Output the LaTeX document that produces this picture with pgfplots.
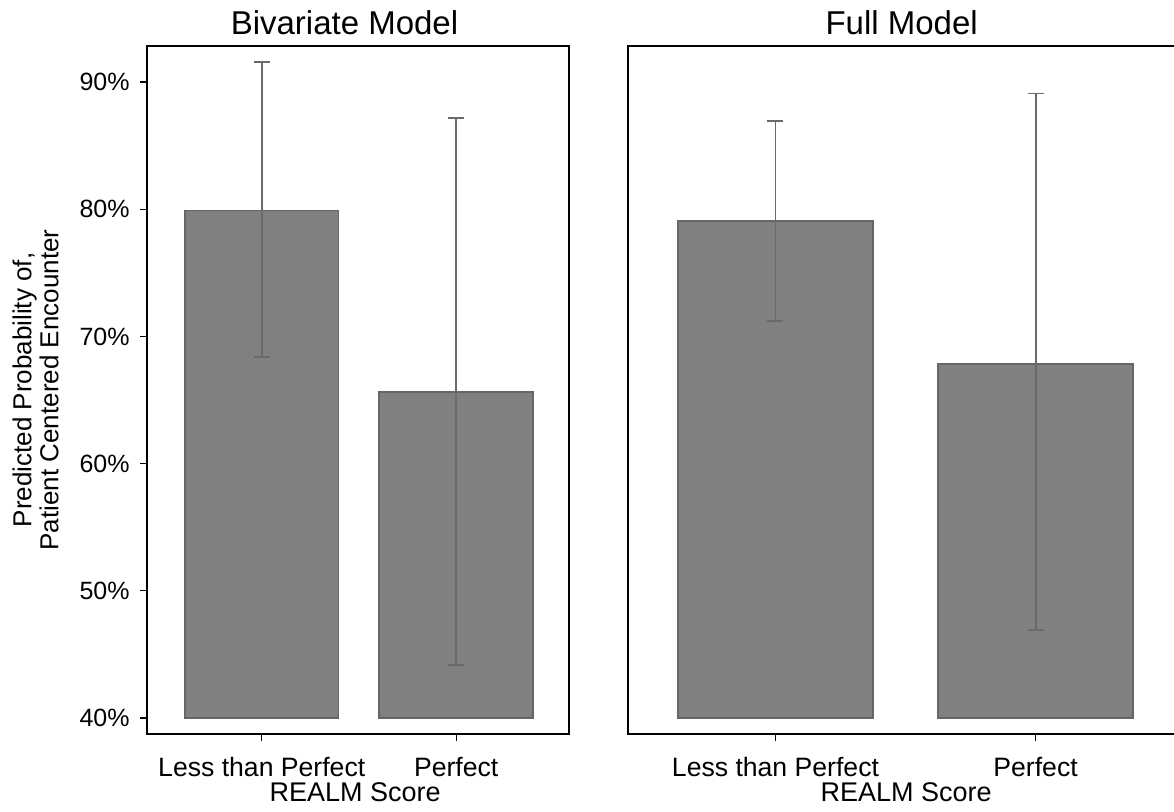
\documentclass[border=0pt]{standalone}
\usepackage{pgfplots}
\pgfplotsset{compat=1.18}
\usepackage{fontspec}
\setmainfont{Liberation Sans}
\definecolor{barfill}{HTML}{808080}
\definecolor{baredge}{HTML}{666666}
\definecolor{errc}{HTML}{6A6A6A}

\pgfplotsset{
  mypanel/.style={
    scale only axis,
    height=344pt,
    ymin=38.74, ymax=92.83,
    ybar stacked,
    axis line style={line width=0.75pt, black},
    tick style={line width=0.6pt, black},
    tick align=outside,
    major tick length=3.5pt,
    xtick={0,1},
    xticklabels={Less than Perfect, Perfect},
    xtick pos=bottom,
    xticklabel style={font=\fontsize{13.3}{14}\selectfont, anchor=base, inner sep=0pt, yshift=-17.5pt},
    xlabel={REALM Score},
    xlabel style={font=\fontsize{13.5}{14}\selectfont, anchor=base, inner sep=0pt},
    title style={font=\fontsize{16.5}{18}\selectfont, anchor=base, inner sep=0pt},
  },
  errstyle/.style={
    fill=barfill, draw=baredge, line width=0.9pt,
    error bars/.cd, y dir=both, y explicit,
    error bar style={errc, line width=0.95pt},
    error mark options={errc, line width=0.95pt, mark size=4pt, rotate=90},
  },
}

\begin{document}
\begin{tikzpicture}
% Left panel: Bivariate Model
\begin{axis}[
  mypanel,
  at={(73.5pt,38.5pt)}, anchor=south west,
  width=211pt,
  xmin=-0.59, xmax=1.58,
  bar width=0.79,
  ytick={40,50,60,70,80,90},
  yticklabels={40\%,50\%,60\%,70\%,80\%,90\%},
  ytick pos=left,
  yticklabel style={font=\fontsize{12.5}{14}\selectfont, anchor=east, inner sep=0pt, xshift=-5pt},
  ylabel={Predicted Probability of,\\Patient Centered Encounter},
  ylabel style={font=\fontsize{13}{13.5}\selectfont, align=center, inner sep=0pt,
    at={([xshift=-44pt]axis description cs:0,0.5)}, anchor=south},
  title={Bivariate Model},
  title style={at={(axis description cs:0.468,1)}, yshift=0pt},
  xlabel style={at={(axis description cs:0.493,0)}, yshift=-33.5pt},
]
\addplot[draw=none, fill=none, forget plot] coordinates {(0,40) (1,40)};
\addplot[errstyle] coordinates {
  (0,39.9) += (0,11.7) -= (0,11.5)
  (1,25.6) += (0,21.6) -= (0,21.4)
};
\end{axis}

% Right panel: Full Model
\begin{axis}[
  mypanel,
  at={(314pt,38.5pt)}, anchor=south west,
  width=277pt,
  xmin=-0.567, xmax=1.563,
  bar width=0.75,
  ytick=\empty,
  title={Full Model},
  title style={at={(axis description cs:0.494,1)}, yshift=0pt},
  xlabel style={at={(axis description cs:0.502,0)}, yshift=-33.5pt},
]
\addplot[draw=none, fill=none, forget plot] coordinates {(0,40) (1,40)};
\addplot[errstyle] coordinates {
  (0,39.1) += (0,7.8) -= (0,7.9)
  (1,27.8) += (0,21.3) -= (0,20.9)
};
\end{axis}
\pgfresetboundingbox
\path[use as bounding box] (0,0) rectangle (587pt,405.5pt);
\end{tikzpicture}
\end{document}
